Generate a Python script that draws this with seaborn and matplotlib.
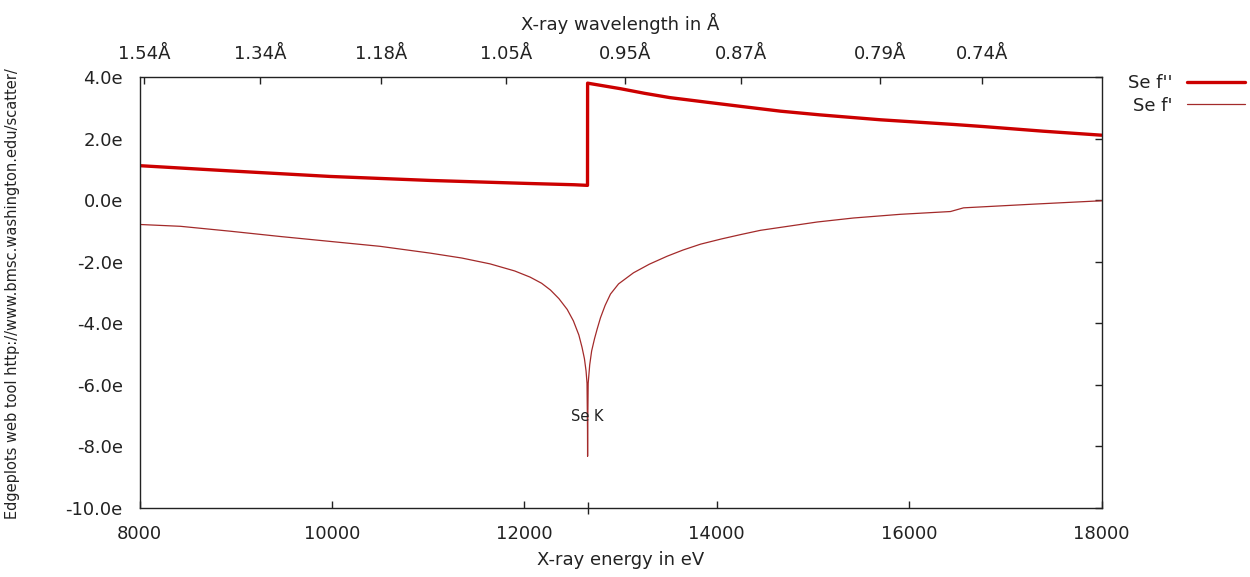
import numpy as np
import pandas as pd
import matplotlib
matplotlib.use("Agg")
import matplotlib.pyplot as plt
import seaborn as sns
from matplotlib.ticker import FixedLocator

# ---------------- data ----------------
edge_energy = 12658  # Se K edge (eV)
edge_label = "Se K"

energy_f2 = [8000, 8940, 9980, 11020, 12060, 12520, 12657, 12658, 13000, 13250,
             13514, 13900, 14265, 14663, 15073, 15703, 16456, 16773, 17392, 18000]
f2 = [1.12, 0.95, 0.77, 0.64, 0.54, 0.50, 0.48, 3.80, 3.62, 3.47,
      3.33, 3.18, 3.04, 2.89, 2.77, 2.61, 2.46, 2.39, 2.24, 2.11]

energy_f1 = [8000, 8426, 8946, 9460, 9980, 10500, 11020, 11350, 11644, 11900,
             12060, 12180, 12272, 12360, 12446, 12510, 12567, 12600, 12625, 12642,
             12652, 12657, 12658, 12659, 12664, 12680, 12700, 12730, 12758, 12792,
             12840, 12896, 12980, 13135, 13300, 13486, 13650, 13832, 14050, 14247,
             14455, 15045, 15422, 15910, 16430, 16566, 17293, 18000]
f1 = [-0.79, -0.85, -1.01, -1.18, -1.34, -1.50, -1.72, -1.88, -2.07, -2.30,
      -2.50, -2.70, -2.92, -3.20, -3.55, -3.92, -4.38, -4.78, -5.15, -5.55,
      -5.95, -7.45, -8.32, -7.45, -5.95, -5.35, -4.90, -4.50, -4.18, -3.82,
      -3.42, -3.05, -2.72, -2.36, -2.08, -1.82, -1.62, -1.43, -1.26, -1.12,
      -0.98, -0.71, -0.58, -0.46, -0.37, -0.25, -0.13, -0.02]

x_ticks = [8000, 10000, 12000, 14000, 16000, 18000]
y_ticks = [-10, -8, -6, -4, -2, 0, 2, 4]
wavelengths = [1.54, 1.34, 1.18, 1.05, 0.95, 0.87, 0.79, 0.74]
hc = 12398.4  # eV*Angstrom

df_f2 = pd.DataFrame({"energy": energy_f2, "value": f2})
df_f1 = pd.DataFrame({"energy": energy_f1, "value": f1})

# ---------------- style ----------------
sns.set_theme(style="white")
plt.rcParams["font.family"] = ["DejaVu Sans"]
plt.rcParams["axes.unicode_minus"] = False

fig = plt.figure(figsize=(12.5, 5.77), dpi=100)
ax = fig.add_axes([139.5 / 1250, 1 - 508 / 577, (1101.5 - 139.5) / 1250, (508 - 77) / 577])

sns.lineplot(data=df_f2, x="energy", y="value", ax=ax, color="#cc0000",
             linewidth=2.4, sort=False, estimator=None, label="Se f''")
sns.lineplot(data=df_f1, x="energy", y="value", ax=ax, color="#a32a2a",
             linewidth=0.9, sort=False, estimator=None, label="Se f'")

ax.set_xlim(8000, 18000)
ax.set_ylim(-10, 4)
ax.set_xticks(x_ticks)
ax.set_xticklabels([str(v) for v in x_ticks])
ax.set_yticks(y_ticks)
ax.set_yticklabels([f"{v:.1f}e" for v in y_ticks])
ax.xaxis.set_minor_locator(FixedLocator([edge_energy]))
ax.tick_params(axis="both", which="major", direction="in", length=5, width=1,
               color="#222222", labelsize=13, pad=12, labelcolor="#222222")
ax.tick_params(axis="y", which="major", right=True)
ax.tick_params(axis="x", which="minor", direction="inout", length=9, width=1,
               color="#222222", top=False)
ax.set_xlabel("X-ray energy in eV", fontsize=13, color="#222222", labelpad=6)
ax.set_ylabel("")
for s in ax.spines.values():
    s.set_color("#222222")
    s.set_linewidth(1.0)

# top wavelength axis
ax2 = ax.twiny()
ax2.set_xlim(ax.get_xlim())
ax2.set_xticks([hc / w for w in wavelengths])
ax2.set_xticklabels([f"{w:.2f}Å" for w in wavelengths])
ax2.tick_params(axis="x", direction="in", length=5, width=1, color="#222222",
                labelsize=13, pad=10, labelcolor="#222222")
ax2.set_xlabel("X-ray wavelength in Å", fontsize=13, color="#222222", labelpad=11)
for s in ax2.spines.values():
    s.set_visible(False)

# edge label
ax.text(edge_energy, -7.02, edge_label, ha="center", va="center", fontsize=10.5,
        color="#222222")

# side credit text
fig.text(13 / 1250, 1 - 294 / 577,
         "Edgeplots web tool http://www.bmsc.washington.edu/scatter/",
         rotation=90, ha="center", va="center", fontsize=10.5, color="#222222")

# legend (sample on the right of text, like gnuplot)
leg = ax.legend(loc="upper right", bbox_to_anchor=(1245 / 1250, 1 - 74 / 577),
                bbox_transform=fig.transFigure, frameon=False, markerfirst=False,
                fontsize=13, handlelength=3.2, handletextpad=0.8, labelspacing=0.25,
                borderaxespad=0, borderpad=0)
for t in leg.get_texts():
    t.set_color("#222222")

fig.savefig("out.png", dpi=100, facecolor="white")
